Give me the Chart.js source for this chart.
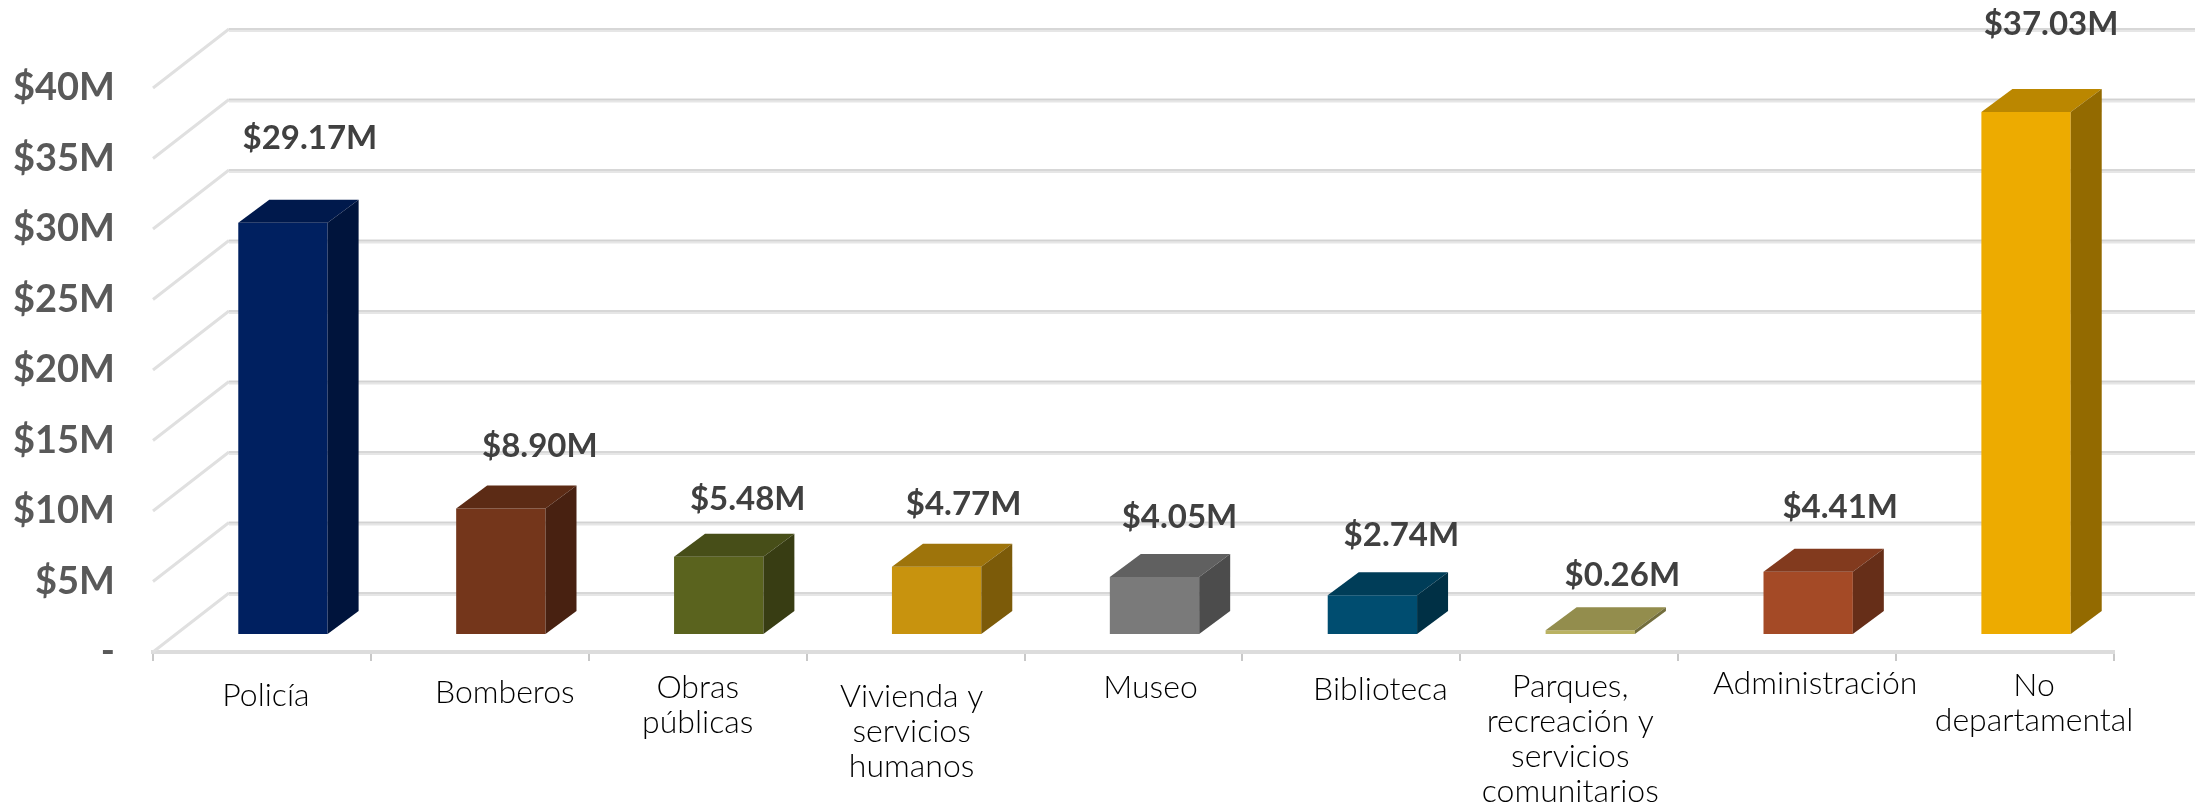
<!DOCTYPE html>
<html>
<head>
<meta charset="utf-8">
<title>Presupuesto por departamento</title>
<script src="https://cdn.jsdelivr.net/npm/chart.js@4"></script>
<style>
  html, body { margin: 0; padding: 0; background: #fff; }
  canvas { display: block; }
</style>
</head>
<body>
<canvas id="budgetChart" width="2196" height="804"></canvas>
<script>
const categories = [
    ['Policía'],
    ['Bomberos'],
    ['Obras', 'públicas'],
    ['Vivienda y', 'servicios', 'humanos'],
    ['Museo'],
    ['Biblioteca'],
    ['Parques,', 'recreación y', 'servicios', 'comunitarios'],
    ['Administración'],
    ['No', 'departamental']
];
const values = [29.17, 8.90, 5.48, 4.77, 4.05, 2.74, 0.26, 4.41, 37.03];
const barColors = ['#002060', '#74361b', '#5a631e', '#c8930e', '#7a7a7a', '#004d70', '#bab262', '#a44a26', '#edab00'];

// the labels were placed by hand in the original, so each one gets its own nudge
const catDx = [4, 25, 0, -4, 17, 29, 1, 28, 29];
const catDy = [44, 41, 36, 45, 36, 38, 35, 32, 34];
const valDx = [27, 39, 29, 27, 25, 29, 32, 32, 25];
const valDy = [84, 62, 57, 62, 60, 60, 55, 64, 88];

// fake 3d
const wall = { dx: 76, dy: -59 };
const barShift = { dx: 21, dy: -18 };
const barDepth = { dx: 31, dy: -23 };

function shade(hex, f) {
    const n = parseInt(hex.slice(1), 16);
    const r = Math.round((n >> 16) * f);
    const g = Math.round(((n >> 8) & 255) * f);
    const b = Math.round((n & 255) * f);
    return 'rgb(' + r + ',' + g + ',' + b + ')';
}

function poly(ctx, pts, color) {
    ctx.fillStyle = color;
    ctx.beginPath();
    pts.forEach((p, i) => i ? ctx.lineTo(p[0], p[1]) : ctx.moveTo(p[0], p[1]));
    ctx.closePath();
    ctx.fill();
}

const wallPlugin = {
    id: 'wall',
    beforeDatasetsDraw(chart) {
        const ctx = chart.ctx;
        const y = chart.scales.y;
        const x0 = chart.chartArea.left;
        ctx.save();
        y.ticks.forEach(t => {
            const py = y.getPixelForValue(t.value);
            ctx.lineWidth = 3;
            ctx.strokeStyle = '#e0e0e0';
            ctx.beginPath();
            ctx.moveTo(x0, py);
            ctx.lineTo(x0 + wall.dx, py + wall.dy);
            ctx.stroke();
            ctx.lineWidth = 4;
            ctx.strokeStyle = '#e6e6e6';
            ctx.beginPath();
            ctx.moveTo(x0 + wall.dx, py + wall.dy + 1);
            ctx.lineTo(chart.width - 1, py + wall.dy + 1);
            ctx.stroke();
            ctx.lineWidth = 1.5;
            ctx.strokeStyle = '#d2d2d2';
            ctx.beginPath();
            ctx.moveTo(x0 + wall.dx, py + wall.dy);
            ctx.lineTo(chart.width - 1, py + wall.dy);
            ctx.stroke();
        });
        ctx.restore();
        // bars stand inside the floor, not on its front edge
        ctx.save();
        ctx.translate(barShift.dx, barShift.dy);
    },
    afterDatasetsDraw(chart) {
        const ctx = chart.ctx;
        chart.getDatasetMeta(0).data.forEach((bar, i) => {
            const l = bar.x - bar.width / 2;
            const r = bar.x + bar.width / 2;
            const d = barDepth;
            poly(ctx, [[l, bar.y], [r, bar.y], [r + d.dx, bar.y + d.dy], [l + d.dx, bar.y + d.dy]], shade(barColors[i], 0.79));
            poly(ctx, [[r, bar.y], [r + d.dx, bar.y + d.dy], [r + d.dx, bar.base + d.dy], [r, bar.base]], shade(barColors[i], 0.62));
        });
        ctx.restore();
    }
};

const labelPlugin = {
    id: 'labels',
    afterDraw(chart) {
        const ctx = chart.ctx;
        const xs = chart.scales.x;
        const meta = chart.getDatasetMeta(0);
        ctx.save();
        ctx.textAlign = 'center';
        ctx.textBaseline = 'middle';

        ctx.font = '300 32px Lato';
        ctx.fillStyle = '#000';
        categories.forEach((lines, i) => {
            const cx = xs.getPixelForValue(i) + catDx[i];
            lines.forEach((line, j) => {
                ctx.fillText(line, cx, xs.top + catDy[i] + j * 35);
            });
        });

        ctx.font = '700 33px Lato';
        ctx.fillStyle = '#404040';
        values.forEach((v, i) => {
            const bar = meta.data[i];
            ctx.fillText('$' + v.toFixed(2) + 'M', bar.x + barShift.dx + valDx[i], bar.y + barShift.dy - valDy[i]);
        });
        ctx.restore();
    }
};

var ctx = document.getElementById('budgetChart').getContext('2d');
var budgetChart = new Chart(ctx, {
    type: 'bar',
    data: {
        labels: categories,
        datasets: [{
            data: values,
            backgroundColor: barColors,
            categoryPercentage: 0.41,
            barPercentage: 1,
            clip: false
        }]
    },
    plugins: [wallPlugin, labelPlugin],
    options: {
        responsive: false,
        animation: false,
        events: [],
        layout: { padding: { top: 88, right: 82 } },
        plugins: { legend: { display: false }, tooltip: { enabled: false } },
        scales: {
            x: {
                afterFit(scale) { scale.height = 152; },
                ticks: { display: false },
                border: { color: '#dcdcdc', width: 4 },
                grid: { drawOnChartArea: false, drawTicks: true, tickLength: 9, color: '#c8c8c8', lineWidth: 2 }
            },
            y: {
                min: 0,
                max: 40,
                afterFit(scale) { scale.width = 153; },
                border: { display: false },
                grid: { display: false, drawTicks: false },
                ticks: {
                    stepSize: 5,
                    padding: 38,
                    color: '#595959',
                    font: { family: 'Lato', size: 38, weight: '700' },
                    callback: v => v === 0 ? '-' : '$' + v + 'M'
                }
            }
        }
    }
});
</script>
</body>
</html>
